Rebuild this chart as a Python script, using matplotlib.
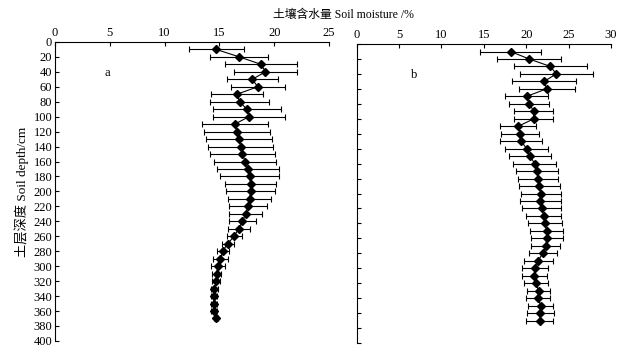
import numpy as np
import matplotlib.pyplot as plt

plt.rcParams['font.family'] = ['Liberation Serif', 'Noto Sans CJK SC']

depth = np.arange(10, 380, 10)

# panel a
moist_a = [14.7, 16.8, 18.8, 19.2, 18.0, 18.5, 16.6, 16.85, 17.5, 17.7,
           16.4, 16.6, 16.8, 16.95, 17.1, 17.35, 17.6, 17.75, 17.85, 17.85,
           17.75, 17.6, 17.4, 17.1, 16.75, 16.35, 15.75, 15.3, 15.1, 14.85,
           14.75, 14.7, 14.55, 14.5, 14.5, 14.5, 14.7]
err_a = [2.5, 2.65, 3.3, 2.9, 2.35, 2.45, 2.4, 2.7, 3.1, 3.3,
         3.0, 3.0, 3.0, 2.95, 2.95, 2.85, 2.85, 2.65, 2.35, 2.25,
         1.95, 1.7, 1.5, 1.25, 1.0, 0.7, 0.55, 0.55, 0.7, 0.65,
         0.4, 0.35, 0.3, 0.25, 0.3, 0.25, 0.15]

# panel b
moist_b = [18.15, 20.35, 22.85, 23.55, 22.1, 22.4, 20.05, 20.35, 20.9, 20.9,
           19.05, 19.3, 19.4, 20.05, 20.45, 21.0, 21.25, 21.4, 21.55, 21.7,
           21.65, 21.85, 22.05, 22.2, 22.4, 22.45, 22.3, 21.95, 21.4, 21.05,
           20.95, 21.15, 21.45, 21.4, 21.7, 21.65, 21.6]
err_b = [3.6, 3.75, 4.3, 4.3, 3.75, 3.3, 2.5, 2.35, 2.3, 2.3,
         2.1, 2.25, 2.45, 2.5, 2.5, 2.55, 2.5, 2.4, 2.4, 2.35,
         2.4, 2.3, 2.1, 2.0, 1.9, 1.85, 1.7, 1.65, 1.7, 1.55,
         1.45, 1.45, 1.35, 1.4, 1.5, 1.6, 1.6]

fig = plt.figure(figsize=(6.25, 3.54), dpi=100)
ax1 = fig.add_axes([0.088, 0.037, 0.4384, 0.8446])
ax2 = fig.add_axes([0.5707, 0.031, 0.4069, 0.8446])

def draw(ax, x, err, xmax, letter, lx):
    ax.errorbar(x, depth, xerr=err, fmt='-D', color='black', ms=4.3,
                lw=0.8, elinewidth=0.8, capsize=2.2, capthick=0.8)
    ax.set_xlim(0, xmax)
    ax.set_ylim(400, 0)
    ax.set_xticks(np.arange(0, xmax + 1, 5))
    ax.set_yticks(np.arange(0, 401, 20))
    ax.xaxis.tick_top()
    ax.spines['right'].set_visible(False)
    ax.spines['bottom'].set_visible(False)
    ax.tick_params(direction='in', labelsize=9, length=3, width=0.8, pad=2)
    for s in ['top', 'left']:
        ax.spines[s].set_linewidth(0.8)
    ax.text(lx, 42, letter, fontsize=9, ha='center', va='center')

draw(ax1, moist_a, err_a, 25, 'a', 4.8)
draw(ax2, moist_b, err_b, 30, 'b', 6.75)
ax2.set_yticklabels([])

ax1.set_ylabel('土层深度 Soil depth/cm', fontsize=9.5, labelpad=3)
fig.text(0.549, 0.958, '土壤含水量 Soil moisture /%', fontsize=8.5,
         ha='center', va='center')

fig.savefig('out.png', dpi=100)
